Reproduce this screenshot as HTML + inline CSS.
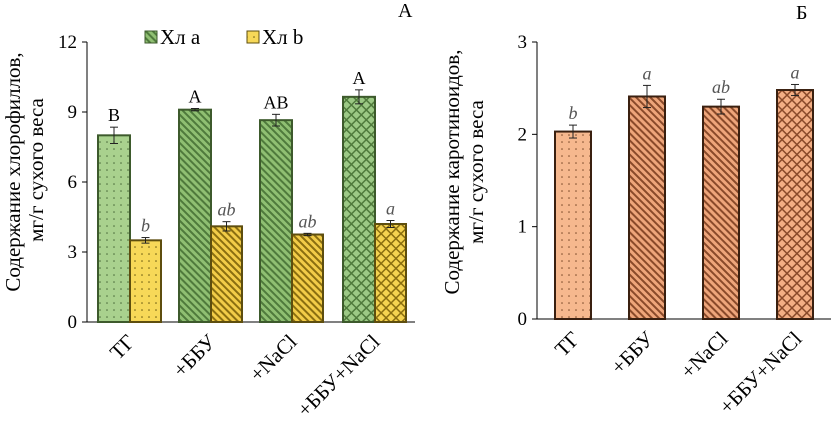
<!DOCTYPE html>
<html><head><meta charset="utf-8"><style>
body{margin:0;background:#fff;width:831px;height:423px;overflow:hidden}
svg{font-family:"Liberation Serif",serif}
</style></head><body>
<svg id="c" width="831" height="423">
<defs>
<pattern id="dotG" width="7" height="7" patternUnits="userSpaceOnUse"><rect width="7" height="7" fill="#a9d18e"/><circle cx="2" cy="2" r="0.8" fill="#4a6a3a"/></pattern>
<pattern id="diagG" width="5" height="5" patternUnits="userSpaceOnUse" patternTransform="rotate(-45)"><rect width="5" height="5" fill="#8fbf72"/><rect width="2" height="5" fill="#4f7a3c"/></pattern>
<pattern id="crossG" width="7" height="7" patternUnits="userSpaceOnUse" patternTransform="rotate(45)"><rect width="7" height="7" fill="#9cc985"/><rect width="1.5" height="7" fill="#4f7a3c"/><rect width="7" height="1.5" fill="#4f7a3c"/></pattern>
<pattern id="dotY" width="7" height="7" patternUnits="userSpaceOnUse"><rect width="7" height="7" fill="#f7d858"/><circle cx="2" cy="2" r="0.8" fill="#6a5a10"/></pattern>
<pattern id="diagY" width="5" height="5" patternUnits="userSpaceOnUse" patternTransform="rotate(-45)"><rect width="5" height="5" fill="#f2cc48"/><rect width="2" height="5" fill="#8a6e10"/></pattern>
<pattern id="crossY" width="7" height="7" patternUnits="userSpaceOnUse" patternTransform="rotate(45)"><rect width="7" height="7" fill="#f5d350"/><rect width="1.5" height="7" fill="#8a6e10"/><rect width="7" height="1.5" fill="#8a6e10"/></pattern>
<pattern id="dotO" width="7" height="7" patternUnits="userSpaceOnUse"><rect width="7" height="7" fill="#f6b88e"/><circle cx="2" cy="2" r="0.8" fill="#7a4a2a"/></pattern>
<pattern id="diagO" width="5" height="5" patternUnits="userSpaceOnUse" patternTransform="rotate(-45)"><rect width="5" height="5" fill="#eea57a"/><rect width="2" height="5" fill="#8a4a2a"/></pattern>
<pattern id="crossO" width="7" height="7" patternUnits="userSpaceOnUse" patternTransform="rotate(45)"><rect width="7" height="7" fill="#f3ae84"/><rect width="1.5" height="7" fill="#8a4a2a"/><rect width="7" height="1.5" fill="#8a4a2a"/></pattern>
</defs>
</svg>
<script>
const categories=["ТГ","+ББУ","+NaCl","+ББУ+NaCl"];
const chlA=[8.0,9.1,8.65,9.65];
const chlAErr=[0.35,0.05,0.25,0.3];
const chlALetters=["B","A","AB","A"];
const chlB=[3.5,4.1,3.75,4.2];
const chlBErr=[0.12,0.2,0.05,0.15];
const chlBLetters=["b","ab","ab","a"];
const carot=[2.03,2.41,2.3,2.48];
const carotErr=[0.07,0.12,0.08,0.06];
const carotLetters=["b","a","ab","a"];
const ticksA=[0,3,6,9,12];
const ticksB=[0,1,2,3];
const pats=["dot","diag","diag","cross"];

const svg=document.getElementById('c');
const NS="http://www.w3.org/2000/svg";
function mk(tag,attrs,name,text){const e=document.createElementNS(NS,tag);for(const k in attrs)e.setAttribute(k,attrs[k]);


if(text!==undefined)e.textContent=text;svg.appendChild(e);return e;}

function axis(x0,x1,y0,y1,max,ticks){
  const sy=v=>y0-(v/max)*(y0-y1);
  mk('line',{x1:x0,y1:y1,x2:x0,y2:y0,stroke:'#000','stroke-width':1},'y-axis');
  mk('line',{x1:x0,y1:y0,x2:x1,y2:y0,stroke:'#000','stroke-width':1},'x-axis');
  ticks.forEach(t=>{mk('line',{x1:x0-5,y1:sy(t),x2:x0,y2:sy(t),stroke:'#000'},'y-tick');
    mk('text',{x:x0-10,y:sy(t)+6,'text-anchor':'end','font-size':19},'y-tick-label',t);});
  return sy;
}
function bar(x,w,v,err,sy,fill,stroke,letter,italic,col,name){
  const y=sy(v),y0=sy(0);
  mk('rect',{x:x,y:y,width:w,height:y0-y,fill:fill,stroke:stroke,'stroke-width':2},name);
  const cx=x+w/2,e1=sy(v+err),e2=sy(v-err);
  mk('line',{x1:cx,y1:e1,x2:cx,y2:e2,stroke:'#222'},'error-bar');
  mk('line',{x1:cx-4,y1:e1,x2:cx+4,y2:e1,stroke:'#222'},'error-cap');
  mk('line',{x1:cx-4,y1:e2,x2:cx+4,y2:e2,stroke:'#222'},'error-cap');
  const t=mk('text',{x:cx,y:e1-6,'text-anchor':'middle','font-size':18,fill:col},'significance-letter',letter);
  if(italic)t.setAttribute('font-style','italic');
}
function xlabels(centers,y){
  centers.forEach((c,i)=>{mk('text',{x:c,y:y,'text-anchor':'end','font-size':21,transform:`rotate(-45 ${c} ${y})`},'x-tick-label',categories[i]);});
}
// Chart A
const syA=axis(87,415,322,42,12,ticksA);
const groupA=[98,179,260,343];
categories.forEach((c,i)=>{
  bar(groupA[i],32,chlA[i],chlAErr[i],syA,`url(#${pats[i]}G)`,'#3d5a2c',chlALetters[i],false,'#000','bar-chl-a');
  bar(groupA[i]+32,31,chlB[i],chlBErr[i],syA,`url(#${pats[i]}Y)`,'#5e4e0e',chlBLetters[i],true,'#555','bar-chl-b');
});
xlabels(groupA.map(g=>g+38),343);
mk('text',{x:0,y:0,'text-anchor':'middle','font-size':21,transform:'translate(20,172) rotate(-90)'},'y-axis-title-line1','Содержание хлорофиллов,');
mk('text',{x:0,y:0,'text-anchor':'middle','font-size':21,transform:'translate(43,170) rotate(-90)'},'y-axis-title-line2','мг/г сухого веса');
mk('text',{x:398,y:17,'font-size':20},'panel-label-a','А');
mk('rect',{x:145,y:31,width:12,height:12,fill:'url(#diagG)',stroke:'#3d5a2c'},'legend-swatch-chl-a');
mk('text',{x:160,y:44,'font-size':21},'legend-entry-chl-a','Хл a');
mk('rect',{x:247,y:31,width:12,height:12,fill:'url(#dotY)',stroke:'#5e4e0e'},'legend-swatch-chl-b');
mk('text',{x:262,y:44,'font-size':21},'legend-entry-chl-b','Хл b');
// Chart B
const syB=axis(537,831,319,42,3,ticksB);
const groupB=[555,629,703,777];
categories.forEach((c,i)=>{
  bar(groupB[i],36,carot[i],carotErr[i],syB,`url(#${pats[i]}O)`,'#3a2010',carotLetters[i],true,'#555','bar-carotenoids');
});
xlabels(groupB.map(g=>g+26),340);
mk('text',{x:0,y:0,'text-anchor':'middle','font-size':21,transform:'translate(459,172) rotate(-90)'},'y-axis-title-line1','Содержание каротиноидов,');
mk('text',{x:0,y:0,'text-anchor':'middle','font-size':21,transform:'translate(483,172) rotate(-90)'},'y-axis-title-line2','мг/г сухого веса');
mk('text',{x:796,y:19,'font-size':20},'panel-label-b','Б');
</script>
</body></html>
